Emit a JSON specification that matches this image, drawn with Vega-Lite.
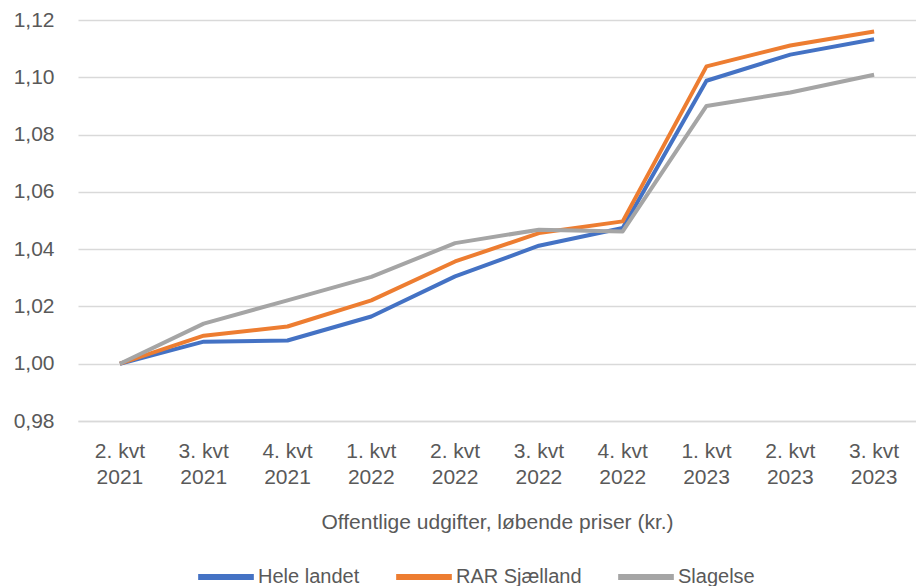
{
  "$schema": "https://vega.github.io/schema/vega-lite/v6.json",
  "width": 838,
  "height": 401,
  "autosize": {"type": "none"},
  "padding": {"left": 78, "top": 20, "right": 0, "bottom": 165},
  "background": "white",
  "config": {
    "font": "Liberation Sans",
    "view": {"stroke": null},
    "axis": {"labelColor": "#595959", "titleColor": "#595959", "labelFont": "Liberation Sans", "titleFont": "Liberation Sans"},
    "legend": {"labelFont": "Liberation Sans", "labelColor": "#595959"}
  },
  "data": {
    "values": [
      {"kvartal": "2. kvt|2021", "serie": "Hele landet", "v": 1.000},
      {"kvartal": "3. kvt|2021", "serie": "Hele landet", "v": 1.0077},
      {"kvartal": "4. kvt|2021", "serie": "Hele landet", "v": 1.0081},
      {"kvartal": "1. kvt|2022", "serie": "Hele landet", "v": 1.0165},
      {"kvartal": "2. kvt|2022", "serie": "Hele landet", "v": 1.0305},
      {"kvartal": "3. kvt|2022", "serie": "Hele landet", "v": 1.0412},
      {"kvartal": "4. kvt|2022", "serie": "Hele landet", "v": 1.0474},
      {"kvartal": "1. kvt|2023", "serie": "Hele landet", "v": 1.0988},
      {"kvartal": "2. kvt|2023", "serie": "Hele landet", "v": 1.1079},
      {"kvartal": "3. kvt|2023", "serie": "Hele landet", "v": 1.1133},
      {"kvartal": "2. kvt|2021", "serie": "RAR Sjælland", "v": 1.000},
      {"kvartal": "3. kvt|2021", "serie": "RAR Sjælland", "v": 1.0098},
      {"kvartal": "4. kvt|2021", "serie": "RAR Sjælland", "v": 1.0130},
      {"kvartal": "1. kvt|2022", "serie": "RAR Sjælland", "v": 1.0221},
      {"kvartal": "2. kvt|2022", "serie": "RAR Sjælland", "v": 1.0357},
      {"kvartal": "3. kvt|2022", "serie": "RAR Sjælland", "v": 1.0456},
      {"kvartal": "4. kvt|2022", "serie": "RAR Sjælland", "v": 1.0497},
      {"kvartal": "1. kvt|2023", "serie": "RAR Sjælland", "v": 1.1038},
      {"kvartal": "2. kvt|2023", "serie": "RAR Sjælland", "v": 1.1111},
      {"kvartal": "3. kvt|2023", "serie": "RAR Sjælland", "v": 1.1160},
      {"kvartal": "2. kvt|2021", "serie": "Slagelse", "v": 1.000},
      {"kvartal": "3. kvt|2021", "serie": "Slagelse", "v": 1.0140},
      {"kvartal": "4. kvt|2021", "serie": "Slagelse", "v": 1.0221},
      {"kvartal": "1. kvt|2022", "serie": "Slagelse", "v": 1.0303},
      {"kvartal": "2. kvt|2022", "serie": "Slagelse", "v": 1.0421},
      {"kvartal": "3. kvt|2022", "serie": "Slagelse", "v": 1.0468},
      {"kvartal": "4. kvt|2022", "serie": "Slagelse", "v": 1.0462},
      {"kvartal": "1. kvt|2023", "serie": "Slagelse", "v": 1.0900},
      {"kvartal": "2. kvt|2023", "serie": "Slagelse", "v": 1.0947},
      {"kvartal": "3. kvt|2023", "serie": "Slagelse", "v": 1.1009}
    ]
  },
  "mark": {"type": "line", "strokeWidth": 4, "strokeJoin": "round", "strokeCap": "butt"},
  "encoding": {
    "x": {
      "field": "kvartal",
      "type": "nominal",
      "sort": null,
      "scale": {"type": "band", "paddingInner": 0, "paddingOuter": 0},
      "title": "Offentlige udgifter, løbende priser (kr.)",
      "axis": {
        "labelExpr": "split(datum.value, '|')",
        "labelAngle": 0,
        "labelFontSize": 21,
        "labelLineHeight": 26,
        "labelPadding": 19,
        "ticks": false,
        "domain": true,
        "domainColor": "#D9D9D9",
        "domainWidth": 1.5,
        "titleFontSize": 21,
        "titleFontWeight": "normal",
        "titlePadding": 24
      }
    },
    "y": {
      "field": "v",
      "type": "quantitative",
      "scale": {"domain": [0.98, 1.12], "nice": false, "zero": false},
      "title": null,
      "axis": {
        "values": [0.98, 1.0, 1.02, 1.04, 1.06, 1.08, 1.1, 1.12],
        "labelExpr": "replace(format(datum.value, '.2f'), '.', ',')",
        "labelFontSize": 21,
        "labelPadding": 24,
        "ticks": false,
        "domain": false,
        "grid": true,
        "gridColor": "#D9D9D9",
        "gridWidth": 1.5
      }
    },
    "color": {
      "field": "serie",
      "type": "nominal",
      "scale": {"domain": ["Hele landet", "RAR Sjælland", "Slagelse"], "range": ["#4472C4", "#ED7D31", "#A5A5A5"]},
      "legend": {
        "orient": "none",
        "legendX": 117,
        "legendY": 526,
        "direction": "horizontal",
        "title": null,
        "symbolType": "stroke",
        "symbolStrokeWidth": 6,
        "symbolSize": 3100,
        "symbolOffset": 0,
        "labelOffset": 1,
        "labelFontSize": 20,
        "columnPadding": 24
      }
    }
  }
}
